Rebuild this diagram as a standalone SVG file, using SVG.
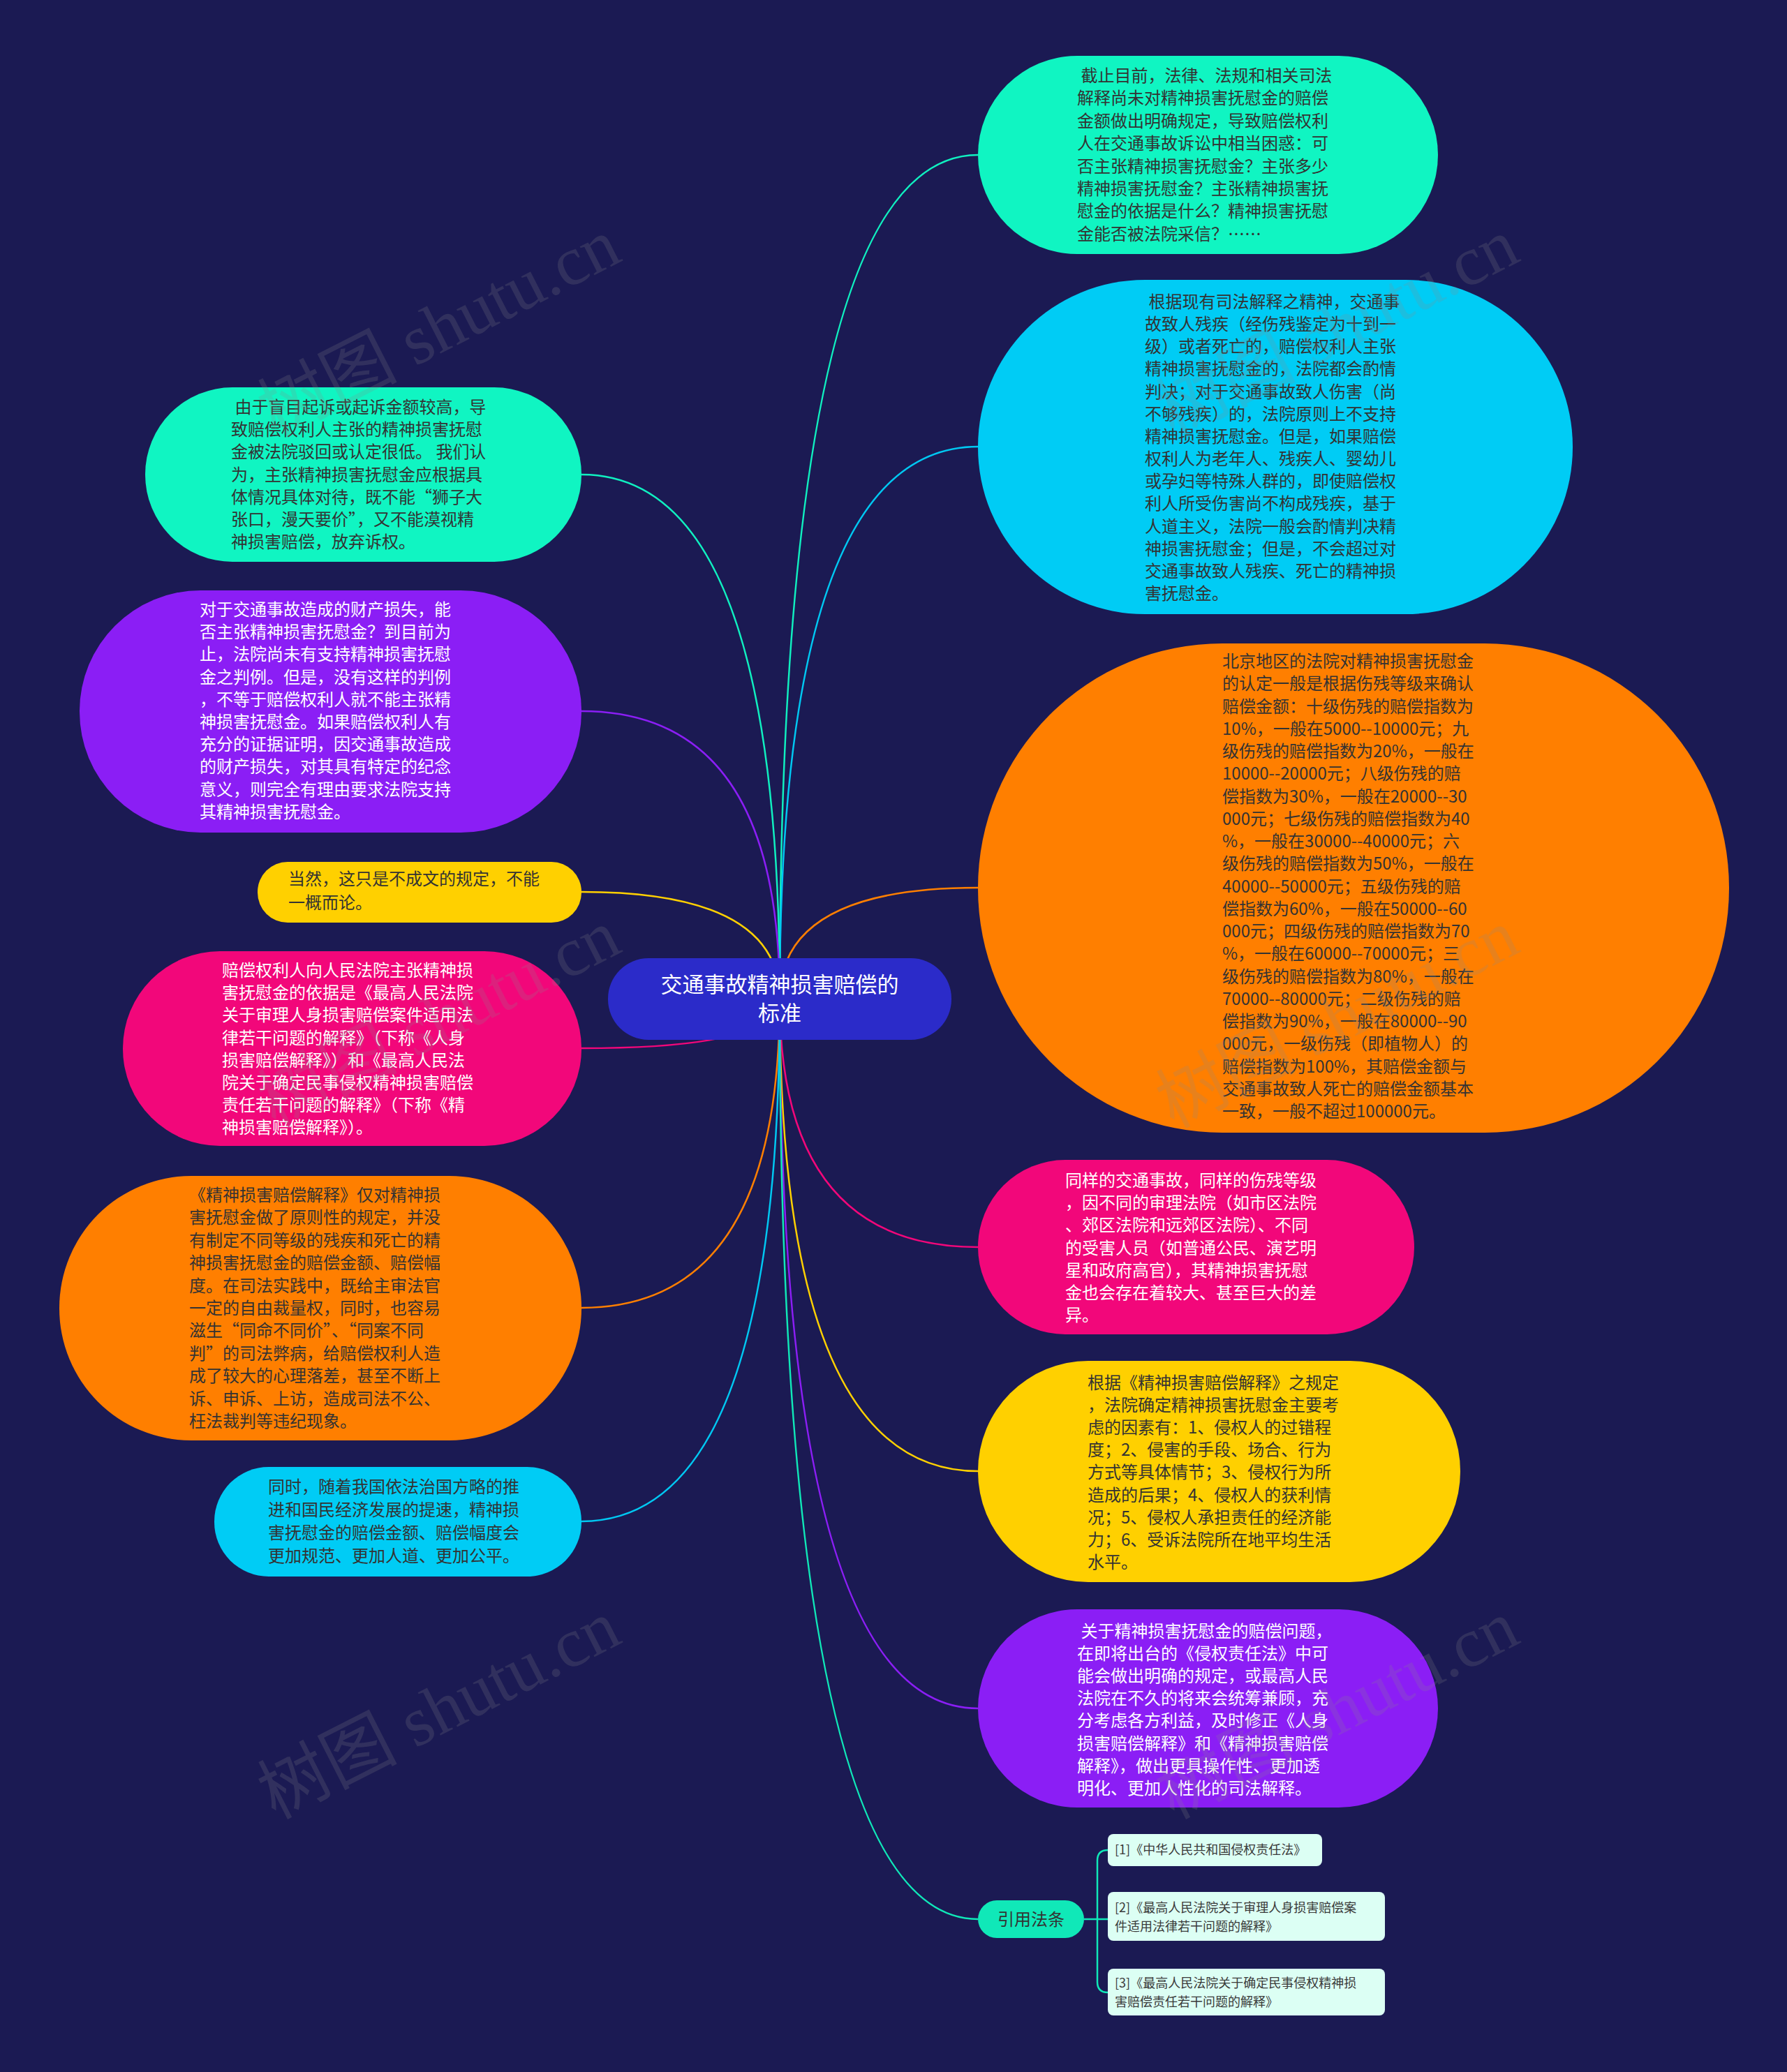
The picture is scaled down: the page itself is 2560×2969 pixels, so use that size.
<svg xmlns="http://www.w3.org/2000/svg" width="2560" height="2969" viewBox="0 0 2560 2969">
<style>
.t{font-family:"Noto Sans CJK SC","Noto Sans",sans-serif;font-size:24px;white-space:pre}
.dk{fill:#333333}
.wt{fill:#ffffff}
.c{fill:none;stroke-width:2.5}
.wm{font-family:"Liberation Serif","Noto Sans CJK SC",serif;font-size:100px;fill:#8a8a8a;opacity:0.2}
.ref{font-family:"Noto Sans CJK SC","Noto Sans",sans-serif;font-size:18px;fill:#3a3a3a;white-space:pre}
</style>
<rect x="0" y="0" width="2560" height="2969" fill="#1b1a53"/>
<g id="connectors">
<path class="c" stroke="#10f0c0" d="M1117 1431 Q1117 222 1401 222"/>
<path class="c" stroke="#00c8f2" d="M1117 1431 Q1117 640 1401 640"/>
<path class="c" stroke="#ff7f00" d="M1117 1431 Q1117 1272 1401 1272"/>
<path class="c" stroke="#f2077a" d="M1117 1431 Q1117 1787 1401 1787"/>
<path class="c" stroke="#ffd000" d="M1117 1431 Q1117 2108 1401 2108"/>
<path class="c" stroke="#8b1ef5" d="M1117 1431 Q1117 2448 1401 2448"/>
<path class="c" stroke="#10e8b8" d="M1117 1431 Q1117 2750 1401 2750"/>
<path class="c" stroke="#10f0c0" d="M1117 1431 Q1117 680 833 680"/>
<path class="c" stroke="#8b1ef5" d="M1117 1431 Q1117 1019 833 1019"/>
<path class="c" stroke="#ffd000" d="M1117 1431 Q1117 1278 833 1278"/>
<path class="c" stroke="#f2077a" d="M1117 1431 Q1117 1502 833 1502"/>
<path class="c" stroke="#ff7f00" d="M1117 1431 Q1117 1874 833 1874"/>
<path class="c" stroke="#00c8f2" d="M1117 1431 Q1117 2180 833 2180"/>
<path class="c" stroke="#10e8b8" d="M1553 2750 H1587 M1572 2750 V2666 Q1572 2651 1587 2651 M1572 2750 V2840 Q1572 2855 1587 2855"/>
</g>
<g id="center">
<rect x="871" y="1373" width="492" height="117" rx="58" fill="#2b2bc9"/>
<text class="t wt" style="font-size:31px" text-anchor="middle"><tspan x="1117" y="1422">交通事故精神损害赔偿的</tspan><tspan x="1117" y="1463">标准</tspan></text>
</g>
<g id="r1">
<rect x="1401" y="80" width="659" height="284" rx="142" fill="#10f5c2"/>
<text class="t dk"><tspan x="1543" y="117"> 截止目前，法律、法规和相关司法</tspan><tspan x="1543" dy="32.4">解释尚未对精神损害抚慰金的赔偿</tspan><tspan x="1543" dy="32.4">金额做出明确规定，导致赔偿权利</tspan><tspan x="1543" dy="32.4">人在交通事故诉讼中相当困惑：可</tspan><tspan x="1543" dy="32.4">否主张精神损害抚慰金？主张多少</tspan><tspan x="1543" dy="32.4">精神损害抚慰金？主张精神损害抚</tspan><tspan x="1543" dy="32.4">慰金的依据是什么？精神损害抚慰</tspan><tspan x="1543" dy="32.4">金能否被法院采信？……</tspan></text>
</g>
<g id="r2">
<rect x="1401" y="401" width="852" height="479" rx="239" fill="#00ccf5"/>
<text class="t dk"><tspan x="1640" y="441"> 根据现有司法解释之精神，交通事</tspan><tspan x="1640" dy="32.15">故致人残疾（经伤残鉴定为十到一</tspan><tspan x="1640" dy="32.15">级）或者死亡的，赔偿权利人主张</tspan><tspan x="1640" dy="32.15">精神损害抚慰金的，法院都会酌情</tspan><tspan x="1640" dy="32.15">判决；对于交通事故致人伤害（尚</tspan><tspan x="1640" dy="32.15">不够残疾）的，法院原则上不支持</tspan><tspan x="1640" dy="32.15">精神损害抚慰金。但是，如果赔偿</tspan><tspan x="1640" dy="32.15">权利人为老年人、残疾人、婴幼儿</tspan><tspan x="1640" dy="32.15">或孕妇等特殊人群的，即使赔偿权</tspan><tspan x="1640" dy="32.15">利人所受伤害尚不构成残疾，基于</tspan><tspan x="1640" dy="32.15">人道主义，法院一般会酌情判决精</tspan><tspan x="1640" dy="32.15">神损害抚慰金；但是，不会超过对</tspan><tspan x="1640" dy="32.15">交通事故致人残疾、死亡的精神损</tspan><tspan x="1640" dy="32.15">害抚慰金。</tspan></text>
</g>
<g id="r3">
<rect x="1401" y="922" width="1076" height="701" rx="350" fill="#ff7f00"/>
<text class="t dk"><tspan x="1751" y="956">北京地区的法院对精神损害抚慰金</tspan><tspan x="1751" dy="32.25">的认定一般是根据伤残等级来确认</tspan><tspan x="1751" dy="32.25">赔偿金额：十级伤残的赔偿指数为</tspan><tspan x="1751" dy="32.25">10%，一般在5000--10000元；九</tspan><tspan x="1751" dy="32.25">级伤残的赔偿指数为20%，一般在</tspan><tspan x="1751" dy="32.25">10000--20000元；八级伤残的赔</tspan><tspan x="1751" dy="32.25">偿指数为30%，一般在20000--30</tspan><tspan x="1751" dy="32.25">000元；七级伤残的赔偿指数为40</tspan><tspan x="1751" dy="32.25">%，一般在30000--40000元；六</tspan><tspan x="1751" dy="32.25">级伤残的赔偿指数为50%，一般在</tspan><tspan x="1751" dy="32.25">40000--50000元；五级伤残的赔</tspan><tspan x="1751" dy="32.25">偿指数为60%，一般在50000--60</tspan><tspan x="1751" dy="32.25">000元；四级伤残的赔偿指数为70</tspan><tspan x="1751" dy="32.25">%，一般在60000--70000元；三</tspan><tspan x="1751" dy="32.25">级伤残的赔偿指数为80%，一般在</tspan><tspan x="1751" dy="32.25">70000--80000元；二级伤残的赔</tspan><tspan x="1751" dy="32.25">偿指数为90%，一般在80000--90</tspan><tspan x="1751" dy="32.25">000元，一级伤残（即植物人）的</tspan><tspan x="1751" dy="32.25">赔偿指数为100%，其赔偿金额与</tspan><tspan x="1751" dy="32.25">交通事故致人死亡的赔偿金额基本</tspan><tspan x="1751" dy="32.25">一致，一般不超过100000元。</tspan></text>
</g>
<g id="r4">
<rect x="1401" y="1662" width="625" height="250" rx="125" fill="#f2077a"/>
<text class="t wt"><tspan x="1526" y="1700">同样的交通事故，同样的伤残等级</tspan><tspan x="1526" dy="32.2">，因不同的审理法院（如市区法院</tspan><tspan x="1526" dy="32.2">、郊区法院和远郊区法院）、不同</tspan><tspan x="1526" dy="32.2">的受害人员（如普通公民、演艺明</tspan><tspan x="1526" dy="32.2">星和政府高官），其精神损害抚慰</tspan><tspan x="1526" dy="32.2">金也会存在着较大、甚至巨大的差</tspan><tspan x="1526" dy="32.2">异。</tspan></text>
</g>
<g id="r5">
<rect x="1401" y="1950" width="691" height="317" rx="158" fill="#ffd000"/>
<text class="t dk"><tspan x="1558" y="1990">根据《精神损害赔偿解释》之规定</tspan><tspan x="1558" dy="32.1">，法院确定精神损害抚慰金主要考</tspan><tspan x="1558" dy="32.1">虑的因素有：1、侵权人的过错程</tspan><tspan x="1558" dy="32.1">度；2、侵害的手段、场合、行为</tspan><tspan x="1558" dy="32.1">方式等具体情节；3、侵权行为所</tspan><tspan x="1558" dy="32.1">造成的后果；4、侵权人的获利情</tspan><tspan x="1558" dy="32.1">况；5、侵权人承担责任的经济能</tspan><tspan x="1558" dy="32.1">力；6、受诉法院所在地平均生活</tspan><tspan x="1558" dy="32.1">水平。</tspan></text>
</g>
<g id="r6">
<rect x="1401" y="2306" width="659" height="284" rx="142" fill="#8b1ef5"/>
<text class="t wt"><tspan x="1543" y="2346"> 关于精神损害抚慰金的赔偿问题，</tspan><tspan x="1543" dy="32.1">在即将出台的《侵权责任法》中可</tspan><tspan x="1543" dy="32.1">能会做出明确的规定，或最高人民</tspan><tspan x="1543" dy="32.1">法院在不久的将来会统筹兼顾，充</tspan><tspan x="1543" dy="32.1">分考虑各方利益，及时修正《人身</tspan><tspan x="1543" dy="32.1">损害赔偿解释》和《精神损害赔偿</tspan><tspan x="1543" dy="32.1">解释》，做出更具操作性、更加透</tspan><tspan x="1543" dy="32.1">明化、更加人性化的司法解释。</tspan></text>
</g>
<g id="refs-hub">
<rect x="1401" y="2723" width="152" height="54" rx="27" fill="#10e8b8"/>
<text class="t dk" text-anchor="middle"><tspan x="1477" y="2759">引用法条</tspan></text>
</g>
<g id="ref1">
<rect x="1587" y="2628" width="307" height="46" rx="8" fill="#dcfff4"/>
<text class="ref"><tspan x="1597" y="2657">[1]《中华人民共和国侵权责任法》</tspan></text>
</g>
<g id="ref2">
<rect x="1587" y="2711" width="397" height="70" rx="8" fill="#dcfff4"/>
<text class="ref"><tspan x="1597" y="2740">[2]《最高人民法院关于审理人身损害赔偿案</tspan><tspan x="1597" dy="27">件适用法律若干问题的解释》</tspan></text>
</g>
<g id="ref3">
<rect x="1587" y="2821" width="397" height="67" rx="8" fill="#dcfff4"/>
<text class="ref"><tspan x="1597" y="2848">[3]《最高人民法院关于确定民事侵权精神损</tspan><tspan x="1597" dy="27">害赔偿责任若干问题的解释》</tspan></text>
</g>
<g id="l1">
<rect x="208" y="555" width="625" height="250" rx="125" fill="#10f5c2"/>
<text class="t dk"><tspan x="331" y="592"> 由于盲目起诉或起诉金额较高，导</tspan><tspan x="331" dy="32.2">致赔偿权利人主张的精神损害抚慰</tspan><tspan x="331" dy="32.2">金被法院驳回或认定很低。 我们认</tspan><tspan x="331" dy="32.2">为，主张精神损害抚慰金应根据具</tspan><tspan x="331" dy="32.2">体情况具体对待，既不能“狮子大</tspan><tspan x="331" dy="32.2">张口，漫天要价”，又不能漠视精</tspan><tspan x="331" dy="32.2">神损害赔偿，放弃诉权。</tspan></text>
</g>
<g id="l2">
<rect x="114" y="846" width="719" height="347" rx="173" fill="#8b1ef5"/>
<text class="t wt"><tspan x="286" y="882">对于交通事故造成的财产损失，能</tspan><tspan x="286" dy="32.2">否主张精神损害抚慰金？到目前为</tspan><tspan x="286" dy="32.2">止，法院尚未有支持精神损害抚慰</tspan><tspan x="286" dy="32.2">金之判例。但是，没有这样的判例</tspan><tspan x="286" dy="32.2">，不等于赔偿权利人就不能主张精</tspan><tspan x="286" dy="32.2">神损害抚慰金。如果赔偿权利人有</tspan><tspan x="286" dy="32.2">充分的证据证明，因交通事故造成</tspan><tspan x="286" dy="32.2">的财产损失，对其具有特定的纪念</tspan><tspan x="286" dy="32.2">意义，则完全有理由要求法院支持</tspan><tspan x="286" dy="32.2">其精神损害抚慰金。</tspan></text>
</g>
<g id="l3">
<rect x="369" y="1235" width="464" height="87" rx="43" fill="#ffd000"/>
<text class="t dk"><tspan x="413" y="1268">当然，这只是不成文的规定，不能</tspan><tspan x="413" dy="34">一概而论。</tspan></text>
</g>
<g id="l4">
<rect x="176" y="1363" width="657" height="279" rx="139" fill="#f2077a"/>
<text class="t wt"><tspan x="318" y="1399">赔偿权利人向人民法院主张精神损</tspan><tspan x="318" dy="32.2">害抚慰金的依据是《最高人民法院</tspan><tspan x="318" dy="32.2">关于审理人身损害赔偿案件适用法</tspan><tspan x="318" dy="32.2">律若干问题的解释》（下称《人身</tspan><tspan x="318" dy="32.2">损害赔偿解释》）和《最高人民法</tspan><tspan x="318" dy="32.2">院关于确定民事侵权精神损害赔偿</tspan><tspan x="318" dy="32.2">责任若干问题的解释》（下称《精</tspan><tspan x="318" dy="32.2">神损害赔偿解释》）。</tspan></text>
</g>
<g id="l5">
<rect x="85" y="1685" width="748" height="379" rx="189" fill="#ff7f00"/>
<text class="t dk"><tspan x="271" y="1721">《精神损害赔偿解释》仅对精神损</tspan><tspan x="271" dy="32.4">害抚慰金做了原则性的规定，并没</tspan><tspan x="271" dy="32.4">有制定不同等级的残疾和死亡的精</tspan><tspan x="271" dy="32.4">神损害抚慰金的赔偿金额、赔偿幅</tspan><tspan x="271" dy="32.4">度。在司法实践中，既给主审法官</tspan><tspan x="271" dy="32.4">一定的自由裁量权，同时，也容易</tspan><tspan x="271" dy="32.4">滋生“同命不同价”、“同案不同</tspan><tspan x="271" dy="32.4">判”的司法弊病，给赔偿权利人造</tspan><tspan x="271" dy="32.4">成了较大的心理落差，甚至不断上</tspan><tspan x="271" dy="32.4">诉、申诉、上访，造成司法不公、</tspan><tspan x="271" dy="32.4">枉法裁判等违纪现象。</tspan></text>
</g>
<g id="l6">
<rect x="307" y="2102" width="526" height="157" rx="78" fill="#00ccf5"/>
<text class="t dk"><tspan x="384" y="2139">同时，随着我国依法治国方略的推</tspan><tspan x="384" dy="33">进和国民经济发展的提速，精神损</tspan><tspan x="384" dy="33">害抚慰金的赔偿金额、赔偿幅度会</tspan><tspan x="384" dy="33">更加规范、更加人道、更加公平。</tspan></text>
</g>
<g id="watermarks">
<text class="wm" text-anchor="middle" transform="translate(644 500) rotate(-27)">树图 shutu.cn</text>
<text class="wm" text-anchor="middle" transform="translate(1931 500) rotate(-27)">树图 shutu.cn</text>
<text class="wm" text-anchor="middle" transform="translate(644 1490) rotate(-27)">树图 shutu.cn</text>
<text class="wm" text-anchor="middle" transform="translate(1931 1490) rotate(-27)">树图 shutu.cn</text>
<text class="wm" text-anchor="middle" transform="translate(644 2480) rotate(-27)">树图 shutu.cn</text>
<text class="wm" text-anchor="middle" transform="translate(1931 2480) rotate(-27)">树图 shutu.cn</text>
</g>
</svg>
